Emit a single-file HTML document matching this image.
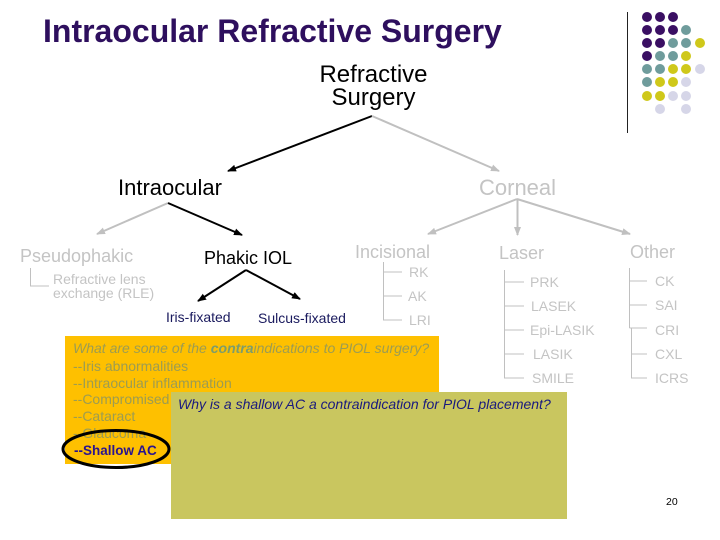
<!DOCTYPE html>
<html><head><meta charset="utf-8"><style>
html,body{margin:0;padding:0;background:#fff}
svg{display:block}
text{font-family:"Liberation Sans",Arial,sans-serif}
.g{fill:#c4c4c4}
</style></head><body>
<svg xmlns="http://www.w3.org/2000/svg" width="720" height="540" viewBox="0 0 720 540">
<defs>
<marker id="k" markerWidth="10" markerHeight="8" refX="8" refY="3.500" orient="auto" markerUnits="userSpaceOnUse"><path d="M0 0L9 3.500L0 7z" fill="#000"/></marker>
<marker id="h" markerWidth="10" markerHeight="8" refX="8" refY="3.500" orient="auto" markerUnits="userSpaceOnUse"><path d="M0 0L9 3.500L0 7z" fill="#c0c0c0"/></marker>
</defs>
<rect width="720" height="540" fill="#fff"/>
<text x="43" y="42" font-size="32" font-weight="bold" fill="#2e0f5e">Intraocular Refractive Surgery</text>
<line x1="627.5" y1="12" x2="627.5" y2="133" stroke="#222" stroke-width="1"/>
<g fill="#3a0f63">
<circle cx="647" cy="17" r="5"/><circle cx="660" cy="17" r="5"/><circle cx="673" cy="17" r="5"/>
<circle cx="647" cy="30" r="5"/><circle cx="660" cy="30" r="5"/><circle cx="673" cy="30" r="5"/>
<circle cx="647" cy="43" r="5"/><circle cx="660" cy="43" r="5"/>
<circle cx="647" cy="56" r="5"/>
</g>
<g fill="#6f9c9c">
<circle cx="686" cy="30" r="5"/>
<circle cx="673" cy="43" r="5"/><circle cx="686" cy="43" r="5"/>
<circle cx="660" cy="56" r="5"/><circle cx="673" cy="56" r="5"/>
<circle cx="647" cy="69" r="5"/><circle cx="660" cy="69" r="5"/>
<circle cx="647" cy="82" r="5"/>
</g>
<g fill="#cfc81a">
<circle cx="700" cy="43" r="5"/>
<circle cx="686" cy="56" r="5"/>
<circle cx="673" cy="69" r="5"/><circle cx="686" cy="69" r="5"/>
<circle cx="660" cy="82" r="5"/><circle cx="673" cy="82" r="5"/>
<circle cx="647" cy="96" r="5"/><circle cx="660" cy="96" r="5"/>
</g>
<g fill="#d6d6e8">
<circle cx="700" cy="69" r="5"/>
<circle cx="686" cy="82" r="5"/>
<circle cx="673" cy="96" r="5"/><circle cx="686" cy="96" r="5"/>
<circle cx="660" cy="109" r="5"/><circle cx="686" cy="109" r="5"/>
</g>

<text x="373.500" y="82" font-size="24" text-anchor="middle">Refractive</text>
<text x="373.500" y="105" font-size="24" text-anchor="middle">Surgery</text>
<text x="118" y="195" font-size="22">Intraocular</text>
<text x="479" y="195" font-size="22" class="g">Corneal</text>
<text x="20" y="262" font-size="18" class="g">Pseudophakic</text>
<text x="204" y="264" font-size="18">Phakic IOL</text>
<text x="355" y="258" font-size="18" class="g">Incisional</text>
<text x="499" y="259" font-size="18" class="g">Laser</text>
<text x="630" y="258" font-size="18" class="g">Other</text>

<g stroke-width="2" fill="none">
<line x1="372" y1="116" x2="228" y2="171" stroke="#000" marker-end="url(#k)"/>
<line x1="372" y1="116" x2="499" y2="171" stroke="#c0c0c0" marker-end="url(#h)"/>
<line x1="168" y1="203" x2="97" y2="234" stroke="#c0c0c0" marker-end="url(#h)"/>
<line x1="168" y1="203" x2="242" y2="235" stroke="#000" marker-end="url(#k)"/>
<line x1="517" y1="199" x2="428" y2="234" stroke="#c0c0c0" marker-end="url(#h)"/>
<line x1="517.500" y1="199" x2="517.500" y2="235" stroke="#c0c0c0" marker-end="url(#h)"/>
<line x1="517" y1="199" x2="630" y2="234" stroke="#c0c0c0" marker-end="url(#h)"/>
<line x1="246" y1="270" x2="198" y2="301" stroke="#000" marker-end="url(#k)"/>
<line x1="246" y1="270" x2="300" y2="299" stroke="#000" marker-end="url(#k)"/>
</g>

<g stroke="#c0c0c0" stroke-width="1" fill="none">
<path d="M30.500 268V286H49"/>
<path d="M383.500 262V320H402M383.500 272H402M383.500 296H402"/>
<path d="M504.500 270V378H524M504.500 282H524M504.500 306H524M504.500 330H524M504.500 354H524"/>
<path d="M629.500 268V328M631.500 328V378H647M629.500 281H647M629.500 305H647M629.500 328H647M631.500 354H647"/>
</g>

<g font-size="14" class="g">
<text x="53" y="284">Refractive lens</text>
<text x="53" y="298">exchange (RLE)</text>
<text x="409" y="277">RK</text>
<text x="408" y="301">AK</text>
<text x="409" y="325">LRI</text>
<text x="530" y="287">PRK</text>
<text x="531" y="311">LASEK</text>
<text x="530" y="335">Epi-LASIK</text>
<text x="533" y="359">LASIK</text>
<text x="532" y="383">SMILE</text>
<text x="655" y="286">CK</text>
<text x="655" y="310">SAI</text>
<text x="655" y="335">CRI</text>
<text x="655" y="359">CXL</text>
<text x="655" y="383">ICRS</text>
</g>
<text x="166" y="322" font-size="14" fill="#1a1a5e">Iris-fixated</text>
<text x="258" y="323" font-size="14" fill="#1a1a5e">Sulcus-fixated</text>

<rect x="65" y="336" width="374" height="128" fill="#fec000"/>
<g font-size="14" fill="#9c9c52">
<text x="73" y="353" font-style="italic">What are some of the <tspan font-weight="bold" fill="#7c9c6c">contra</tspan>indications to PIOL surgery?</text>
<text x="73" y="371">--Iris abnormalities</text>
<text x="73" y="388">--Intraocular inflammation</text>
<text x="73" y="404">--Compromised</text>
<text x="73" y="421">--Cataract</text>
<text x="73" y="438">--Glaucoma</text>
</g>
<rect x="171" y="392" width="396" height="127" fill="#c9c65f"/>
<text x="178" y="409" font-size="14" font-style="italic" fill="#1a1a7e">Why is a shallow AC a contraindication for PIOL placement?</text>
<ellipse cx="116" cy="449" rx="53" ry="18.500" fill="none" stroke="#000" stroke-width="3"/>
<text x="74" y="455" font-size="13.500" font-weight="bold" fill="#2a1490">--Shallow AC</text>
<text x="666" y="505" font-size="10.500">20</text>
</svg>
</body></html>
